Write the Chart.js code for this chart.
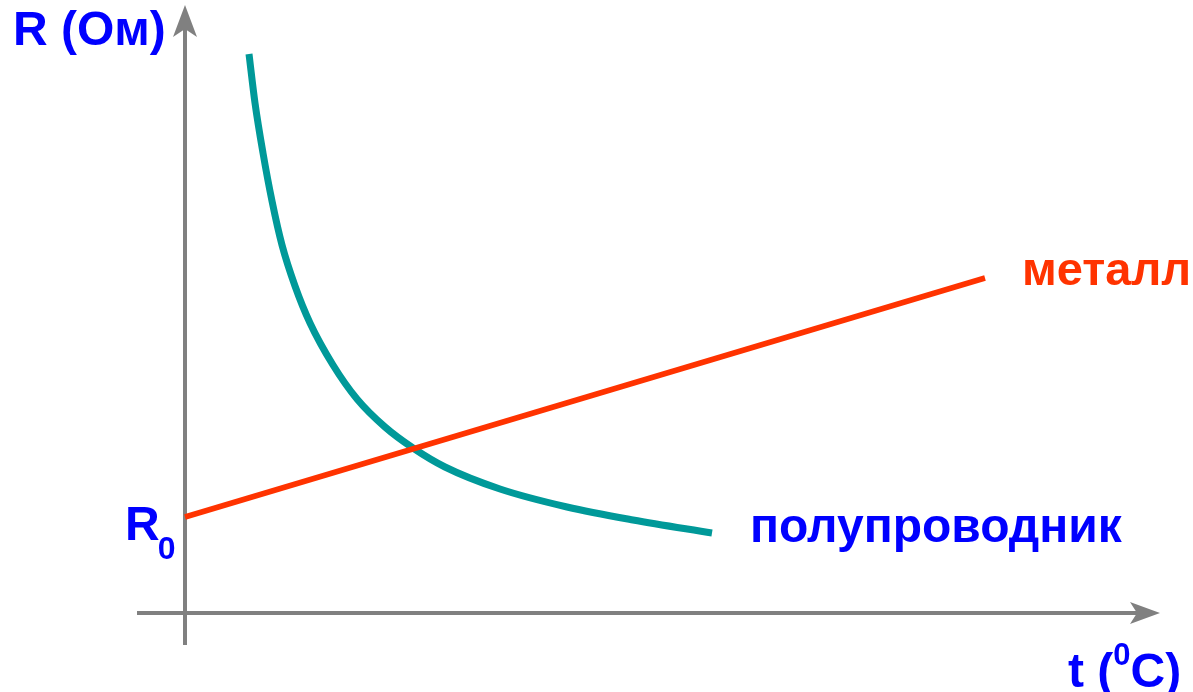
<!DOCTYPE html>
<html>
<head>
<meta charset="utf-8">
<script src="https://cdn.jsdelivr.net/npm/chart.js@4/dist/chart.umd.min.js"></script>
<style>
  html, body { margin: 0; padding: 0; background: #ffffff; }
  #wrap { position: relative; width: 1193px; height: 692px; }
</style>
</head>
<body>
<div id="wrap"><canvas id="c"></canvas></div>
<script>
// ---- data (arbitrary units: t, R) ----
const metalT = [0, 80];
const metalR = [9.6, 33.5];
const semiT = [6.4, 7.0, 7.8, 8.7, 9.7, 11.0, 12.5, 14.8, 17.2, 20.0, 22.8, 26.0, 31.5, 38.2, 44.8, 52.7];
const semiR = [55.9, 51.0, 46.0, 41.2, 36.8, 32.7, 29.0, 24.8, 21.4, 18.6, 16.5, 14.6, 12.4, 10.6, 9.3, 8.0];
const seriesNames = ['металл', 'полупроводник'];
const axisTitles = { y: 'R (Ом)', x: 't (', xSup: '0', xUnit: 'C)' };
const r0Label = { main: 'R', sub: '0' };

const toPoints = (xs, ys) => xs.map((x, i) => ({ x: x, y: ys[i] }));

const FONT = '"Liberation Sans", Arial, sans-serif';
const BLUE = '#0000ff';
const RED = '#ff3300';
const TEAL = '#009999';
const GRAY = '#808080';

const axesPlugin = {
  id: 'axesArrows',
  beforeDatasetsDraw(chart) {
    const ctx = chart.ctx, xs = chart.scales.x, ys = chart.scales.y;
    const x0 = xs.getPixelForValue(0), y0 = ys.getPixelForValue(0);
    const yTop = ys.getPixelForValue(60.8), yBot = ys.getPixelForValue(-3.2);
    const xL = xs.getPixelForValue(-4.8), xR = xs.getPixelForValue(97.5);
    ctx.save();
    ctx.strokeStyle = GRAY; ctx.fillStyle = GRAY; ctx.lineWidth = 4;
    // y axis
    ctx.beginPath(); ctx.moveTo(x0, yBot); ctx.lineTo(x0, yTop + 20); ctx.stroke();
    ctx.beginPath();
    ctx.moveTo(x0, yTop); ctx.lineTo(x0 + 12, yTop + 32); ctx.lineTo(x0, yTop + 24);
    ctx.lineTo(x0 - 12, yTop + 32); ctx.closePath(); ctx.fill();
    // x axis
    ctx.beginPath(); ctx.moveTo(xL, y0); ctx.lineTo(xR - 20, y0); ctx.stroke();
    ctx.beginPath();
    ctx.moveTo(xR, y0); ctx.lineTo(xR - 30, y0 - 11); ctx.lineTo(xR - 23, y0);
    ctx.lineTo(xR - 30, y0 + 11); ctx.closePath(); ctx.fill();
    ctx.restore();
  },
  afterDraw(chart) {
    const ctx = chart.ctx, xs = chart.scales.x, ys = chart.scales.y;
    const P = (x, y) => [xs.getPixelForValue(x), ys.getPixelForValue(y)];
    ctx.save();
    ctx.textBaseline = 'alphabetic';
    ctx.textAlign = 'left';
    // y-axis title
    ctx.fillStyle = BLUE; ctx.font = 'bold 48px ' + FONT;
    let [px, py] = P(-17.2, 56.8);
    ctx.fillText(axisTitles.y, px, py);
    // R0
    [px, py] = P(-6.0, 7.3);
    ctx.fillText(r0Label.main, px, py);
    const rw = ctx.measureText(r0Label.main).width;
    ctx.font = 'bold 32px ' + FONT;
    ctx.fillText(r0Label.sub, px + rw - 2, py + 19);
    // series labels
    ctx.font = 'bold 47px ' + FONT;
    ctx.fillStyle = RED;
    [px, py] = P(83.7, 32.8);
    ctx.fillText(seriesNames[0], px, py);
    ctx.fillStyle = BLUE;
    ctx.font = 'bold 48px ' + FONT;
    [px, py] = P(56.5, 7.1);
    ctx.fillText(seriesNames[1], px, py);
    // x-axis title
    [px, py] = P(88.3, -7.4);
    ctx.fillText(axisTitles.x, px, py);
    let w = ctx.measureText(axisTitles.x).width;
    ctx.font = 'bold 31px ' + FONT;
    ctx.fillText(axisTitles.xSup, px + w, py - 22);
    const sw = ctx.measureText(axisTitles.xSup).width;
    ctx.font = 'bold 48px ' + FONT;
    ctx.fillText(axisTitles.xUnit, px + w + sw, py);
    ctx.restore();
  }
};

new Chart(document.getElementById('c'), {
  type: 'scatter',
  data: {
    datasets: [
      {
        label: seriesNames[0],
        data: toPoints(metalT, metalR),
        showLine: true,
        borderColor: RED,
        borderWidth: 5.5,
        pointRadius: 0,
        borderCapStyle: 'butt'
      },
      {
        label: seriesNames[1],
        data: toPoints(semiT, semiR),
        showLine: true,
        borderColor: TEAL,
        borderWidth: 7,
        pointRadius: 0,
        cubicInterpolationMode: 'monotone',
        borderCapStyle: 'butt'
      }
    ]
  },
  options: {
    responsive: true,
    maintainAspectRatio: false,
    animation: false,
    layout: { padding: 0 },
    plugins: { legend: { display: false }, tooltip: { enabled: false } },
    scales: {
      x: { type: 'linear', min: -18.5, max: 100.8, display: false },
      y: { type: 'linear', min: -7.9, max: 61.3, display: false }
    }
  },
  plugins: [axesPlugin]
});
</script>
</body>
</html>
